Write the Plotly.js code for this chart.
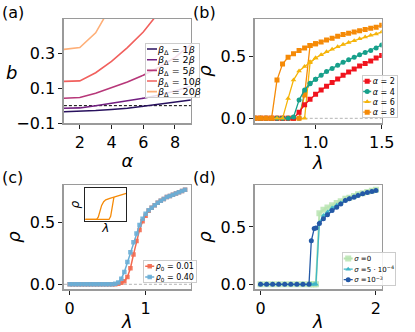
<!DOCTYPE html>
<html><head><meta charset="utf-8">
<script src="https://cdn.plot.ly/plotly-3.0.1.min.js"></script>
<style>html,body{margin:0;padding:0;background:#fff}#chart{width:415px;height:332px}</style>
</head><body><div id="chart"></div>
<script>
// ---------- Panel (a): b vs alpha ----------
const alphaA = [1, 2, 3, 4, 5, 6, 7, 8, 9];
const bBeta1  = [-0.035, -0.033, -0.028, -0.022, -0.015, -0.003, 0.008, 0.020, 0.033];
const bBeta2  = [-0.015, -0.013, 0.000, 0.013, 0.027, 0.043, 0.062, 0.085, 0.113];
const bBeta5  = [0.043, 0.047, 0.072, 0.102, 0.136, 0.176, 0.222, 0.278, 0.352];
const bBeta10 = [0.140, 0.143, 0.190, 0.255, 0.335, 0.425, 0.540, 0.680, 0.840];
const bBeta20 = [0.325, 0.335, 0.420, 0.560, 0.720, 0.900, 1.100, 1.330, 1.600];
const namesA = ['<i>β</i><sub>Δ</sub> = 1<i>β</i>', '<i>β</i><sub>Δ</sub> = 2<i>β</i>', '<i>β</i><sub>Δ</sub> = 5<i>β</i>', '<i>β</i><sub>Δ</sub> = 10<i>β</i>', '<i>β</i><sub>Δ</sub> = 20<i>β</i>'];

// ---------- Panel (b): rho vs lambda for several alpha (forward / backward branches) ----------
const lamB = [0.542, 0.583, 0.625, 0.667, 0.708, 0.750, 0.792, 0.833, 0.875, 0.917, 0.958, 1.000,
              1.042, 1.083, 1.125, 1.167, 1.208, 1.250, 1.292, 1.333, 1.375, 1.417, 1.458, 1.500];
const rhoA2 = [0, 0, 0, 0, 0, 0, 0, 0, 0.05, 0.11, 0.155, 0.195, 0.23, 0.26, 0.29, 0.32, 0.35, 0.375, 0.40, 0.425, 0.445, 0.465, 0.49, 0.51];
const rhoA4 = [0, 0, 0, 0, 0, 0, 0, 0.01, 0.148, 0.23, 0.284, 0.317, 0.35, 0.38, 0.405, 0.43, 0.455, 0.475, 0.495, 0.515, 0.535, 0.55, 0.57, 0.595];
const rhoA6 = [0, 0, 0, 0, 0, 0, 0.16, 0.31, 0.385, 0.42, 0.46, 0.49, 0.515, 0.54, 0.56, 0.58, 0.60, 0.615, 0.63, 0.645, 0.66, 0.675, 0.685, 0.70];
const rhoA8 = [0, 0, 0, 0, 0.31, 0.44, 0.495, 0.525, 0.55, 0.57, 0.59, 0.605, 0.62, 0.635, 0.65, 0.665, 0.68, 0.69, 0.70, 0.71, 0.72, 0.73, 0.74, 0.755];
const lamBack = [0.542, 0.583, 0.625, 0.667, 0.708, 0.750, 0.792, 0.833, 0.875, 0.917, 0.958, 1.000];
const rhoA4back = [0, 0, 0, 0, 0, 0, 0, 0, 0, 0.21, 0.28, 0.317];
const rhoA6back = [0, 0, 0, 0, 0, 0, 0, 0, 0, 0, 0.45, 0.49];
const rhoA8back = [0, 0, 0, 0, 0, 0, 0, 0, 0, 0.19, 0.59, 0.605];

// ---------- Panel (c): rho vs lambda for two initial densities ----------
const lamC = [0, 0.04, 0.08, 0.12, 0.16, 0.20, 0.24, 0.28, 0.32, 0.36, 0.40, 0.44, 0.48, 0.52, 0.56,
              0.60, 0.64, 0.68, 0.72, 0.76, 0.80, 0.84, 0.88, 0.92, 0.96, 1.00, 1.04, 1.08, 1.12, 1.16,
              1.20, 1.24, 1.28, 1.32, 1.36, 1.40, 1.44, 1.48, 1.52];
const rhoC001 = [0, 0, 0, 0, 0, 0, 0, 0, 0, 0, 0, 0, 0, 0, 0,
                 0.0, 0.004, 0.012, 0.025, 0.06, 0.13, 0.24, 0.35, 0.44, 0.51, 0.555, 0.595, 0.62, 0.64, 0.66,
                 0.675, 0.69, 0.705, 0.715, 0.725, 0.735, 0.745, 0.755, 0.765];
const rhoC040 = [0, 0, 0, 0, 0, 0, 0, 0, 0, 0, 0, 0, 0, 0, 0,
                 0.004, 0.015, 0.045, 0.10, 0.18, 0.26, 0.34, 0.41, 0.48, 0.53, 0.57, 0.598, 0.62, 0.64, 0.66,
                 0.675, 0.69, 0.705, 0.715, 0.725, 0.735, 0.745, 0.755, 0.765];
// inset (schematic hysteresis loop, normalised units)
const insetLam1 = [0, 0.1, 0.2, 0.28, 0.32, 0.36, 0.40, 0.45, 0.50, 0.60, 0.70, 0.80, 0.90, 1.00];
const insetRho1 = [0, 0, 0, 0, 0.08, 0.28, 0.45, 0.57, 0.63, 0.68, 0.72, 0.77, 0.81, 0.84];
const insetLam2 = [0, 0.2, 0.4, 0.58, 0.62, 0.65, 0.68, 0.70];
const insetRho2 = [0, 0, 0, 0, 0.10, 0.35, 0.62, 0.72];

// ---------- Panel (d): rho vs lambda for several sigma ----------
const lamD = [0, 0.105, 0.21, 0.315, 0.42, 0.525, 0.63, 0.735, 0.84, 0.88, 0.93, 0.96, 1.02,
              1.09, 1.16, 1.24, 1.32, 1.39, 1.47, 1.54, 1.62, 1.69, 1.77, 1.85, 1.93, 2.00];
const rhoSig0   = [0, 0, 0, 0, 0, 0, 0, 0, 0, 0, 0, 0, 0.62, 0.65, 0.67, 0.69, 0.71, 0.725, 0.745, 0.755, 0.77, 0.785, 0.795, 0.805, 0.815, 0.825];
const rhoSig5e4 = [0, 0, 0, 0, 0, 0, 0, 0, 0, 0, 0, 0, 0.54, 0.60, 0.63, 0.665, 0.69, 0.71, 0.735, 0.75, 0.765, 0.78, 0.79, 0.80, 0.81, 0.82];
const rhoSig1e3 = [0, 0, 0, 0, 0, 0, 0, 0, 0, 0.38, 0.486, 0.49, 0.53, 0.572, 0.607, 0.644, 0.673, 0.70, 0.731, 0.746, 0.76, 0.775, 0.79, 0.80, 0.81, 0.818];

// ---------------------------------------------------------------
const W = 415, H = 332;
const FONT = 'DejaVu Sans';
const X = v => v / W;
const Y = v => 1 - v / H;

const colA = ['#28115e', '#721f81', '#b73779', '#f1605d', '#feaf78'];
const colB = {a2: '#f0141e', a4: '#17a08b', a6: '#f5b40a', a8: '#f58a07'};
const colC = {r1: '#f26a50', r4: '#6aaed6'};
const colD = {s0: '#b9e4b1', s5: '#3fb6c7', s10: '#2459a6'};

const traces = [];
[bBeta1, bBeta2, bBeta5, bBeta10, bBeta20].forEach((b, i) => {
  traces.push({x: alphaA, y: b, xaxis: 'x', yaxis: 'y', mode: 'lines', name: namesA[i],
    line: {color: colA[i], width: 1.6}, legend: 'legend'});
});

function bTrace(x, y, color, sym, name, show) {
  return {x: x, y: y, xaxis: 'x2', yaxis: 'y2', mode: 'lines+markers', name: name,
    line: {color: color, width: 1.3}, marker: {color: color, symbol: sym, size: 5},
    legend: 'legend2', showlegend: show};
}
traces.push(bTrace(lamBack, rhoA4back, colB.a4, 'circle', 'a4b', false));
traces.push(bTrace(lamBack, rhoA6back, colB.a6, 'triangle-up', 'a6b', false));
traces.push(bTrace(lamBack, rhoA8back, colB.a8, 'square', 'a8b', false));
traces.push(bTrace(lamB, rhoA2, colB.a2, 'square', '<i>α</i> = 2', true));
traces.push(bTrace(lamB, rhoA4, colB.a4, 'circle', '<i>α</i> = 4', true));
traces.push(bTrace(lamB, rhoA6, colB.a6, 'triangle-up', '<i>α</i> = 6', true));
traces.push(bTrace(lamB, rhoA8, colB.a8, 'square', '<i>α</i> = 8', true));

traces.push({x: lamC, y: rhoC001, xaxis: 'x3', yaxis: 'y3', mode: 'lines+markers', name: '<i>ρ</i><sub>0</sub> = 0.01',
  line: {color: colC.r1, width: 1.5}, marker: {color: colC.r1, symbol: 'square', size: 4.5, opacity: 0.9}, legend: 'legend3'});
traces.push({x: lamC, y: rhoC040, xaxis: 'x3', yaxis: 'y3', mode: 'lines+markers', name: '<i>ρ</i><sub>0</sub> = 0.40',
  line: {color: colC.r4, width: 1.5}, marker: {color: colC.r4, symbol: 'square', size: 4.5, opacity: 0.9}, legend: 'legend3'});

traces.push({x: insetLam1, y: insetRho1, xaxis: 'x5', yaxis: 'y5', mode: 'lines', showlegend: false,
  line: {color: '#f58a07', width: 1.3}});
traces.push({x: insetLam2, y: insetRho2, xaxis: 'x5', yaxis: 'y5', mode: 'lines', showlegend: false,
  line: {color: '#f58a07', width: 1.3}});

traces.push({x: lamD, y: rhoSig0, xaxis: 'x4', yaxis: 'y4', mode: 'lines+markers', name: '<i>σ</i> =0',
  line: {color: colD.s0, width: 2}, marker: {color: colD.s0, symbol: 'square', size: 6, opacity: 0.85}, legend: 'legend4'});
traces.push({x: lamD, y: rhoSig5e4, xaxis: 'x4', yaxis: 'y4', mode: 'lines+markers', name: '<i>σ</i> =5 · 10<sup>−4</sup>',
  line: {color: colD.s5, width: 1.3}, marker: {color: colD.s5, symbol: 'triangle-up', size: 5}, legend: 'legend4'});
traces.push({x: lamD, y: rhoSig1e3, xaxis: 'x4', yaxis: 'y4', mode: 'lines+markers', name: '<i>σ</i> =10<sup>−3</sup>',
  line: {color: colD.s10, width: 1.3}, marker: {color: colD.s10, symbol: 'circle', size: 5}, legend: 'legend4'});

const baseAx = {
  showline: true, linecolor: '#9a9a9a', linewidth: 1.5, mirror: true,
  ticks: 'outside', ticklen: 4, tickwidth: 1, tickcolor: '#222',
  showgrid: false, zeroline: false, automargin: false, fixedrange: true,
  tickfont: {family: FONT, size: 16, color: '#000'}
};
const ttl = (t, s) => ({text: t, font: {family: FONT, size: 18, color: '#000'}, standoff: s});

const xdL = [X(67), X(200)], xdR = [X(267), X(400)];
const ydT = [Y(123), Y(19)], ydB = [Y(289), Y(185)];

const layout = {
  width: W, height: H,
  margin: {l: 0, r: 0, t: 0, b: 0},
  paper_bgcolor: '#fff', plot_bgcolor: '#fff',
  font: {family: FONT, color: '#000'},
  xaxis: Object.assign({}, baseAx, {domain: xdL, anchor: 'y', range: [1, 9], tickvals: [2, 4, 6, 8], title: ttl('<i>α</i>', 3)}),
  yaxis: Object.assign({}, baseAx, {domain: ydT, anchor: 'x', range: [-0.1, 0.5], tickvals: [-0.1, 0.1, 0.3], tickformat: '.1f'}),
  xaxis2: Object.assign({}, baseAx, {domain: xdR, anchor: 'y2', range: [0.54, 1.5], tickvals: [1.0, 1.5], tickformat: '.1f', title: ttl('<i>λ</i>', 3)}),
  yaxis2: Object.assign({}, baseAx, {domain: ydT, anchor: 'x2', range: [-0.038, 0.806], tickvals: [0, 0.5], tickformat: '.1f', title: ttl('<i>ρ</i>', 4)}),
  xaxis3: Object.assign({}, baseAx, {domain: xdL, anchor: 'y3', range: [-0.076, 1.596], tickvals: [0, 1], title: ttl('<i>λ</i>', 3)}),
  yaxis3: Object.assign({}, baseAx, {domain: ydB, anchor: 'x3', range: [-0.038, 0.803], tickvals: [0, 0.5], tickformat: '.1f', title: ttl('<i>ρ</i>', 4)}),
  xaxis4: Object.assign({}, baseAx, {domain: xdR, anchor: 'y4', range: [-0.1, 2.1], tickvals: [0, 2], title: ttl('<i>λ</i>', 3)}),
  yaxis4: Object.assign({}, baseAx, {domain: ydB, anchor: 'x4', range: [-0.041, 0.866], tickvals: [0, 0.5], tickformat: '.1f', title: ttl('<i>ρ</i>', 4)}),
  xaxis5: {domain: [X(89.3), X(132.3)], anchor: 'y5', range: [0, 1], showline: true, linecolor: '#222', linewidth: 1, mirror: true,
    ticks: '', showticklabels: false, showgrid: false, zeroline: false, fixedrange: true, automargin: false,
    title: {text: '<i>λ</i>', font: {family: FONT, size: 12, color: '#000'}, standoff: 2}},
  yaxis5: {domain: [Y(221), Y(188.3)], anchor: 'x5', range: [-0.05, 1.0], showline: true, linecolor: '#222', linewidth: 1, mirror: true,
    ticks: '', showticklabels: false, showgrid: false, zeroline: false, fixedrange: true, automargin: false,
    title: {text: '<i>ρ</i>', font: {family: FONT, size: 12, color: '#000'}, standoff: 2}},
  shapes: [
    {type: 'line', xref: 'x domain', yref: 'y', x0: 0, x1: 1, y0: 0, y1: 0, layer: 'below', line: {color: '#000', width: 1, dash: '3px,2px'}},
    {type: 'line', xref: 'x2 domain', yref: 'y2', x0: 0, x1: 1, y0: 0, y1: 0, layer: 'below', line: {color: '#b5b5b5', width: 1, dash: '3px,2px'}},
    {type: 'line', xref: 'x3 domain', yref: 'y3', x0: 0, x1: 1, y0: 0, y1: 0, layer: 'below', line: {color: '#b5b5b5', width: 1, dash: '3px,2px'}},
    {type: 'line', xref: 'x5 domain', yref: 'y5', x0: 0.5, x1: 1, y0: 0, y1: 0, layer: 'below', line: {color: '#b5b5b5', width: 1, dash: '2px,2px'}}
  ],
  annotations: [
    {text: '(a)', xref: 'paper', yref: 'paper', x: 0, y: Y(12), xanchor: 'left', yanchor: 'middle', showarrow: false, font: {family: FONT, size: 16}},
    {text: '(b)', xref: 'paper', yref: 'paper', x: X(200), y: Y(12), xanchor: 'left', yanchor: 'middle', showarrow: false, font: {family: FONT, size: 16}},
    {text: '(c)', xref: 'paper', yref: 'paper', x: 0, y: Y(177), xanchor: 'left', yanchor: 'middle', showarrow: false, font: {family: FONT, size: 16}},
    {text: '(d)', xref: 'paper', yref: 'paper', x: X(200), y: Y(177), xanchor: 'left', yanchor: 'middle', showarrow: false, font: {family: FONT, size: 16}},
    {text: '<i>b</i>', xref: 'paper', yref: 'paper', x: X(12.5), y: Y(72), xanchor: 'center', yanchor: 'middle', showarrow: false, font: {family: FONT, size: 18}}
  ],
  legend:  {x: X(145), y: Y(42.7), xanchor: 'left', yanchor: 'top', bgcolor: 'rgba(255,255,255,0.85)', bordercolor: '#cccccc', borderwidth: 1, font: {family: FONT, size: 9.5}, itemwidth: 30},
  legend2: {x: X(361.7), y: Y(75), xanchor: 'left', yanchor: 'top', bgcolor: 'rgba(255,255,255,0.85)', bordercolor: '#cccccc', borderwidth: 1, font: {family: FONT, size: 8}, itemwidth: 30},
  legend3: {x: X(142.7), y: Y(260), xanchor: 'left', yanchor: 'top', bgcolor: 'rgba(255,255,255,0.85)', bordercolor: '#cccccc', borderwidth: 1, font: {family: FONT, size: 8}, itemwidth: 30},
  legend4: {x: X(341.7), y: Y(252.3), xanchor: 'left', yanchor: 'top', bgcolor: 'rgba(255,255,255,0.85)', bordercolor: '#cccccc', borderwidth: 1, font: {family: FONT, size: 7}, itemwidth: 30}
};

// compact the legends to matplotlib-like geometry (short glyphs, tight rows)
function fixLegend(cls, L, T, Wd, Ht, lineX0, lineLen, textX) {
  const g = document.querySelector('#chart g.' + cls);
  if (!g) return;
  g.setAttribute('transform', 'translate(' + L + ',' + T + ')');
  const bg = g.querySelector('rect.bg');
  if (bg) { bg.setAttribute('x', 0.5); bg.setAttribute('y', 0.5); bg.setAttribute('width', Wd - 1); bg.setAttribute('height', Ht - 1); }
  const sb = g.querySelector('g.scrollbox');
  if (sb) sb.setAttribute('transform', 'translate(0,0)');
  const items = g.querySelectorAll('g.traces');
  const n = items.length;
  const sp = (Ht - 2) / n;
  items.forEach((it, i) => {
    it.setAttribute('transform', 'translate(0,' + (1 + sp * (i + 0.5)) + ')');
    it.querySelectorAll('.legendlines path').forEach(p => p.setAttribute('d', 'M' + lineX0 + ',0h' + lineLen));
    it.querySelectorAll('.legendpoints path').forEach(p => p.setAttribute('transform', 'translate(' + (lineX0 + lineLen / 2) + ',0)'));
    it.querySelectorAll('text').forEach(t => {
      const tx = parseFloat(t.getAttribute('x') || '0');
      const dx = textX - tx;
      t.setAttribute('x', textX);
      t.querySelectorAll('tspan').forEach(s => {
        if (s.hasAttribute('x')) s.setAttribute('x', parseFloat(s.getAttribute('x')) + dx);
      });
      t.removeAttribute('transform');
    });
    const tog = it.querySelector('rect.legendtoggle');
    if (tog) tog.setAttribute('width', Wd);
  });
}

function fixAll() {
  fixLegend('legend', 145, 42.7, 55, 55.3, 2, 10, 13);
  fixLegend('legend2', 361.7, 75, 36.3, 43.3, 1.5, 8, 11);
  fixLegend('legend3', 142.7, 260, 54, 23.3, 2.5, 9, 13);
  fixLegend('legend4', 341.7, 252.3, 54.3, 33.7, 2, 9, 12.5);
}

Plotly.newPlot('chart', traces, layout, {staticPlot: true, displayModeBar: false}).then(() => {
  fixAll();
  setTimeout(fixAll, 50);
  setTimeout(fixAll, 300);
});
</script></body></html>
